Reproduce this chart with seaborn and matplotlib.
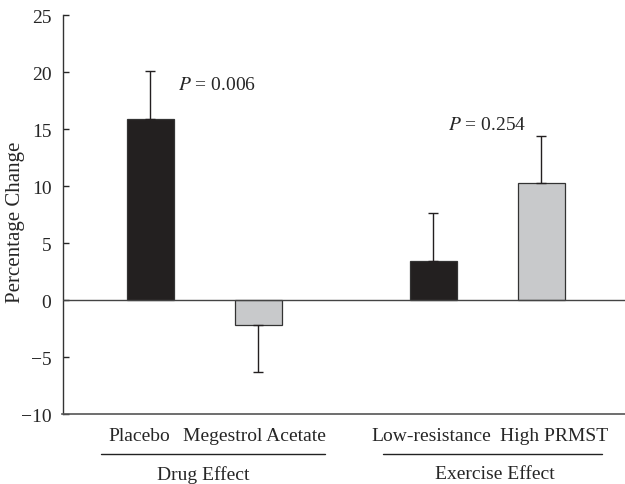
import matplotlib
matplotlib.use('Agg')
import matplotlib.pyplot as plt
import matplotlib.transforms as mtransforms
import seaborn as sns
import pandas as pd

# values
groups = ['Placebo', 'Megestrol Acetate', 'Low-resistance', 'High PRMST']
pct_change = [15.9, -2.2, 3.4, 10.3]
sem = [4.2, 4.1, 4.2, 4.1]
effects = ['Drug Effect', 'Exercise Effect']
p_values = ['0.006', '0.254']

# layout
x_pos = [0, 1, 2.62, 3.62]
label_pos = [-0.10, 0.963, 2.60, 3.74]
bar_colors = ['#231f20', '#c8c9cb', '#231f20', '#c8c9cb']
fs = 14

sns.set_style('ticks')
plt.rcParams['font.family'] = ['Liberation Serif', 'DejaVu Serif']
plt.rcParams['mathtext.fontset'] = 'stix'
plt.rcParams['font.size'] = fs

df = pd.DataFrame({'x': x_pos, 'change': pct_change, 'group': groups})

fig = plt.figure(figsize=(6.25, 4.85), dpi=100)
ax = fig.add_axes([0.1, 0.1443, 0.9, 0.8227])

sns.barplot(data=df, x='x', y='change', hue='group', palette=bar_colors,
            native_scale=True, width=0.435, edgecolor='#333333', linewidth=0.9,
            legend=False, ax=ax)

# one-sided error bars, in the direction of each bar
lower = [s if v < 0 else 0 for v, s in zip(pct_change, sem)]
upper = [s if v >= 0 else 0 for v, s in zip(pct_change, sem)]
ax.errorbar(x_pos, pct_change, yerr=[lower, upper], fmt='none', ecolor='#231f20',
            elinewidth=1, capsize=3.8, capthick=1, zorder=1)

ax.axhline(0, color='#444444', lw=1, zorder=3)

ax.set_ylim(-10, 25)
ax.set_xlim(-0.815, 4.398)
ax.set_yticks(range(-10, 26, 5))
ax.tick_params(axis='y', direction='in', length=4.5, width=1, pad=8, labelsize=fs)
ax.tick_params(axis='x', length=0, pad=9, labelsize=fs)
ax.set_xticks(label_pos)
ax.set_xticklabels(groups)
ax.set_xlabel('')
ax.set_ylabel('Percentage Change', fontsize=15)
ax.yaxis.set_label_coords(-0.066, 0.484)

for side in ['top', 'right']:
    ax.spines[side].set_visible(False)
ax.spines['left'].set_color('#333333')
ax.spines['bottom'].set_color('#555555')
ax.spines['left'].set_linewidth(1)
ax.spines['bottom'].set_linewidth(1.2)

# group lines and labels under the tick labels
trans = mtransforms.blended_transform_factory(ax.transData, ax.transAxes)
line_spans = [(-0.454, 1.62), (2.157, 4.185)]
label_x = [0.49, 3.19]
for (x0, x1), lx, name in zip(line_spans, label_x, effects):
    ax.plot([x0, x1], [-0.1003, -0.1003], color='#222222', lw=1,
            transform=trans, clip_on=False)
    ax.text(lx, -0.150, name, transform=trans, ha='center', va='center',
            fontsize=fs)

# P values
ax.text(0.26, 18.9, r'$P$ = ' + p_values[0], ha='left', va='center', fontsize=fs)
ax.text(2.76, 15.4, r'$P$ = ' + p_values[1], ha='left', va='center', fontsize=fs)

fig.savefig('out.png', dpi=100)
